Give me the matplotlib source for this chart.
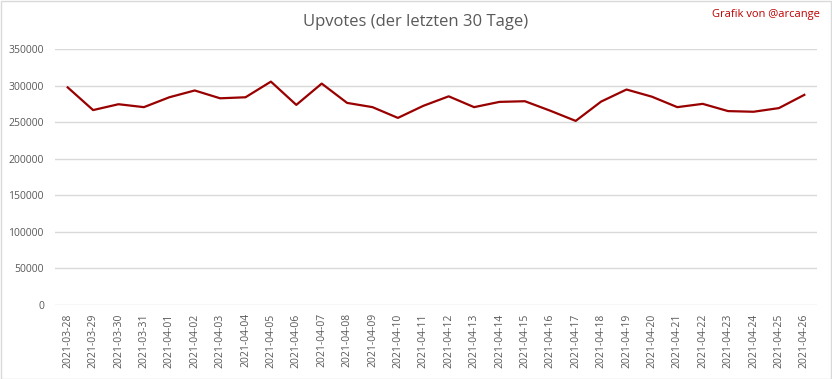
import matplotlib.pyplot as plt
from matplotlib.patches import Rectangle

# daily upvotes, last 30 days
dates = ["2021-03-28", "2021-03-29", "2021-03-30", "2021-03-31",
         "2021-04-01", "2021-04-02", "2021-04-03", "2021-04-04",
         "2021-04-05", "2021-04-06", "2021-04-07", "2021-04-08",
         "2021-04-09", "2021-04-10", "2021-04-11", "2021-04-12",
         "2021-04-13", "2021-04-14", "2021-04-15", "2021-04-16",
         "2021-04-17", "2021-04-18", "2021-04-19", "2021-04-20",
         "2021-04-21", "2021-04-22", "2021-04-23", "2021-04-24",
         "2021-04-25", "2021-04-26"]
upvotes = [297500, 266500, 274500, 270500, 284000, 293300, 282600, 284000,
           305400, 273600, 302700, 276300, 270500, 255800, 272300, 285300,
           270500, 277700, 278600, 265600, 251700, 278100, 294600, 284800,
           270500, 275000, 265100, 264200, 269200, 287300]
yticks = list(range(0, 350001, 50000))

plt.rcParams['font.family'] = ['Open Sans', 'DejaVu Sans']

fig = plt.figure(figsize=(8.32, 3.79), dpi=100)
ax = fig.add_axes([55 / 832, 1 - 305 / 379, 762 / 832, 256 / 379])

x = list(range(len(dates)))
ax.plot(x, upvotes, color="#990000", linewidth=1.6)

ax.set_xlim(-0.5, len(dates) - 0.5)
ax.set_ylim(0, 350000)
ax.set_yticks(yticks)
ax.set_yticklabels([str(v) for v in yticks], color="#595959", fontsize=7.5)
ax.set_xticks(x)
ax.set_xticklabels(dates, rotation=90, color="#595959", fontsize=7.5)
ax.tick_params(length=0, pad=6)
ax.tick_params(axis="y", pad=8)
ax.grid(axis="y", color="#d9d9d9", linewidth=1)
ax.set_axisbelow(True)
for s in ax.spines.values():
    s.set_visible(False)

fig.text(0.5, 1 - 22 / 379, "Upvotes (der letzten 30 Tage)", ha="center", va="center",
         color="#595959", fontsize=12)
fig.text(820 / 832, 1 - 14 / 379, "Grafik von @arcange", ha="right", va="center",
         color="#c00000", fontsize=8)

fig.patches.append(Rectangle((0.5 / 832, 0.5 / 379), 1 - 1.5 / 832, 1 - 1.5 / 379,
                             transform=fig.transFigure, fill=False,
                             edgecolor="#d9d9d9", linewidth=1))

fig.savefig("out.png", dpi=100)
